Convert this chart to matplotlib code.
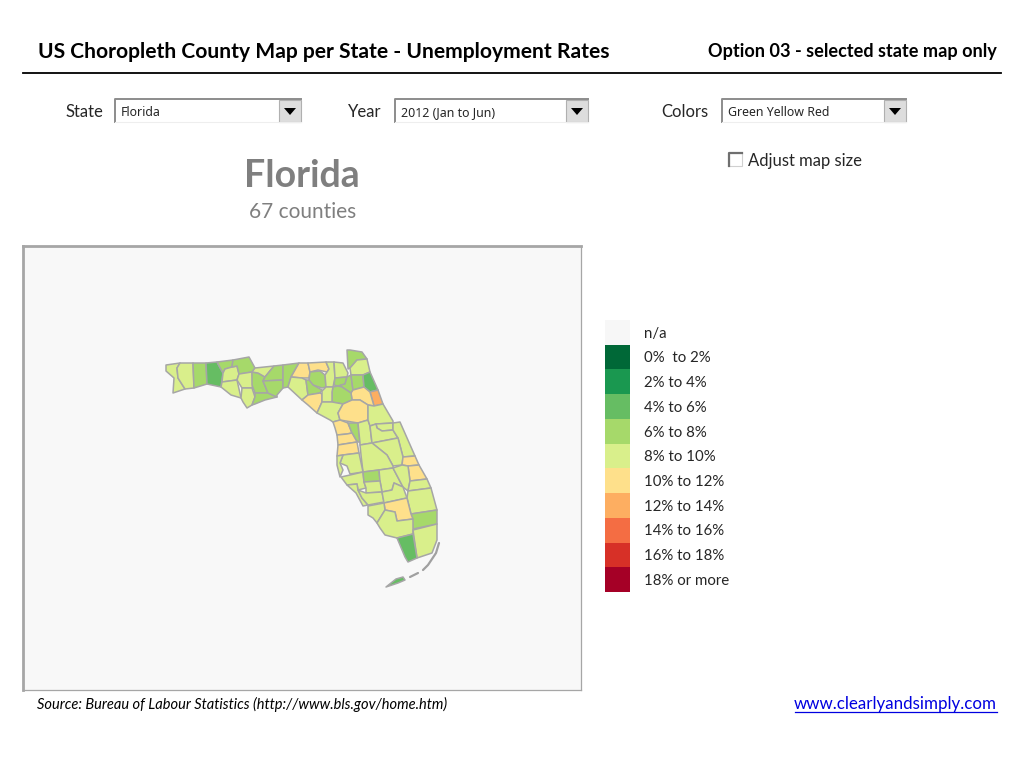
import matplotlib
matplotlib.use("Agg")
import matplotlib.pyplot as plt
from matplotlib.collections import PolyCollection
from matplotlib.patches import Rectangle, Polygon

plt.rcParams['font.family'] = ['Lato', 'DejaVu Sans']

W, H = 1024, 764

# ---- data ----
bin_labels = ["n/a", "0%  to 2%", "2% to 4%", "4% to 6%", "6% to 8%", "8% to 10%",
              "10% to 12%", "12% to 14%", "14% to 16%", "16% to 18%", "18% or more"]
bin_colors = ["#f7f7f7", "#006837", "#1a9850", "#66bd63", "#a6d96a", "#d9ef8b",
              "#fee08b", "#fdae61", "#f46d43", "#d73027", "#a50026"]

counties = {}
def county(name, bin_index, outline):
    counties[name] = (bin_index, outline)

county("Escambia", 5, [(166,365),(180,363),(177,368),(178,378),(185,389),(173,393),(174,378),(166,371)])
county("Santa Rosa", 5, [(180,363),(193,363),(194,388),(185,389),(178,378),(177,368)])
county("Okaloosa", 4, [(193,363),(206,363),(207,384),(194,388)])
county("Walton", 3, [(206,363),(217,362),(223,373),(221,387),(207,384)])
county("Holmes", 4, [(217,362),(233,360),(232,367),(225,369),(223,373)])
county("Washington", 5, [(223,373),(225,369),(232,367),(237,366),(239,374),(237,380),(222,382)])
county("Bay", 5, [(222,382),(237,380),(241,398),(231,395),(221,387)])
county("Jackson", 4, [(233,360),(249,357),(255,368),(252,372),(239,374),(237,366),(232,367)])
county("Calhoun", 5, [(239,374),(252,372),(253,385),(252,388),(242,388),(237,380)])
county("Gulf", 5, [(242,388),(252,388),(255,397),(252,405),(247,408),(243,402),(241,398)])
county("Liberty", 4, [(252,372),(258,373),(265,377),(263,381),(268,393),(255,393),(252,385)])
county("Franklin", 4, [(255,393),(268,393),(277,397),(265,400),(255,404),(252,405),(255,397)])
county("Gadsden", 5, [(255,368),(274,366),(265,377),(258,373),(252,372)])
county("Leon", 4, [(274,366),(283,365),(283,380),(263,381),(265,377)])
county("Wakulla", 4, [(263,381),(283,380),(283,388),(277,395),(277,397),(268,393)])
county("Jefferson", 4, [(283,365),(299,363),(291,377),(288,387),(283,388)])
county("Madison", 6, [(299,363),(308,363),(310,372),(309,378),(302,378),(291,377)])
county("Taylor", 5, [(291,377),(302,378),(306,380),(308,395),(302,400),(288,387)])
county("Hamilton", 6, [(308,363),(326,362),(329,369),(327,372),(318,370),(310,372)])
county("Suwannee", 4, [(310,372),(320,371),(325,375),(326,387),(322,388),(313,385),(309,380)])
county("Lafayette", 4, [(306,380),(309,380),(313,385),(322,390),(320,393),(308,395)])
county("Dixie", 6, [(308,395),(320,393),(322,394),(322,402),(317,413),(308,405),(302,400)])
county("Columbia", 5, [(326,362),(334,362),(335,378),(333,387),(326,387),(325,375),(329,369)])
county("Baker", 5, [(334,362),(343,363),(348,373),(347,377),(335,378)])
county("Union", 4, [(335,378),(347,377),(345,384),(338,386),(334,385)])
county("Bradford", 4, [(347,377),(351,375),(353,390),(351,393),(342,387),(338,386),(345,384)])
county("Nassau", 4, [(347,350),(350,350),(362,352),(367,359),(357,360),(350,368),(348,369)])
county("Duval", 5, [(350,368),(357,360),(367,359),(370,372),(363,375),(351,375)])
county("Clay", 4, [(351,375),(363,375),(364,387),(353,390)])
county("St Johns", 3, [(363,375),(370,372),(378,390),(370,392),(364,387)])
county("Flagler", 7, [(370,392),(378,390),(383,404),(374,406)])
county("Putnam", 6, [(353,390),(364,387),(370,392),(374,406),(368,405),(360,400),(352,400),(351,393)])
county("Alachua", 4, [(333,387),(338,386),(342,387),(351,393),(352,400),(343,404),(332,402),(332,392)])
county("Gilchrist", 5, [(322,391),(326,387),(333,387),(332,392),(332,402),(322,402),(322,394)])
county("Levy", 5, [(322,402),(332,402),(343,404),(338,413),(340,420),(333,422),(330,420),(317,413)])
county("Marion", 6, [(343,404),(352,400),(360,400),(368,405),(368,420),(358,423),(340,420),(338,413)])
county("Citrus", 6, [(333,422),(340,420),(348,423),(352,433),(347,434),(337,435),(335,428)])
county("Sumter", 4, [(348,423),(358,423),(360,443),(356,440),(352,433)])
county("Hernando", 6, [(337,435),(347,434),(352,433),(356,440),(357,442),(338,445)])
county("Pasco", 6, [(338,445),(357,442),(359,453),(343,455),(337,456)])
county("Lake", 5, [(358,423),(368,420),(370,426),(372,443),(360,445),(360,443)])
county("Volusia", 5, [(368,405),(374,406),(383,404),(393,421),(393,423),(376,424),(370,426),(368,420)])
county("Seminole", 5, [(376,424),(393,423),(393,430),(382,431),(377,428)])
county("Orange", 5, [(370,426),(376,424),(377,428),(382,431),(393,430),(398,438),(372,443)])
county("Brevard", 5, [(393,423),(400,422),(415,456),(403,457),(398,438),(393,430)])
county("Osceola", 5, [(372,443),(398,438),(403,457),(402,465),(393,466),(387,455)])
county("Polk", 5, [(360,445),(372,443),(387,455),(393,466),(393,468),(379,470),(363,472),(361,455)])
county("Indian River", 6, [(403,457),(415,456),(419,465),(408,466),(402,465)])
county("St Lucie", 6, [(408,466),(419,465),(427,479),(410,481)])
county("Hillsborough", 5, [(343,455),(359,453),(363,472),(350,474),(347,466),(340,463)])
county("Pinellas", 5, [(337,456),(343,455),(340,463),(343,470),(340,477),(337,465)])
county("Manatee", 5, [(341,477),(350,475),(363,472),(364,482),(366,488),(358,490),(357,484),(347,485)])
county("Hardee", 4, [(363,472),(379,470),(380,481),(364,482)])
county("Highlands", 5, [(379,470),(393,468),(403,487),(394,483),(392,490),(382,492),(380,481)])
county("Okeechobee", 5, [(393,468),(402,465),(408,466),(410,481),(408,491),(403,487)])
county("De Soto", 5, [(364,482),(380,481),(382,492),(366,493),(366,488)])
county("Sarasota", 5, [(347,485),(357,484),(358,490),(362,498),(368,505),(363,506),(356,493)])
county("Charlotte", 5, [(358,490),(366,493),(382,492),(384,502),(368,505),(362,498)])
county("Glades", 5, [(382,492),(392,490),(394,483),(403,487),(407,498),(384,503)])
county("St Lucie South", 5, [(410,481),(427,479),(431,488),(408,491)])
county("Martin", 5, [(408,491),(431,488),(437,510),(411,514),(407,498)])
county("Palm Beach", 4, [(411,514),(437,510),(437,524),(413,529)])
county("Hendry", 6, [(384,503),(407,498),(411,514),(413,519),(397,521),(395,512),(385,510)])
county("Lee", 5, [(368,506),(384,503),(385,510),(377,523),(373,518),(368,515)])
county("Collier", 5, [(377,523),(385,510),(395,512),(397,521),(413,519),(413,534),(397,538),(385,535),(380,528)])
county("Broward-Dade", 5, [(413,530),(437,524),(437,540),(432,553),(417,558)])
county("Monroe", 3, [(397,538),(413,534),(417,558),(408,562),(405,557)])
county("Keys", 3, [(386,587),(396,579),(403,577),(405,580),(398,583)])

keys_strips = [
    [(410,577),(418,573)],
    [(423,570),(428,565),(436,553),(439,543)],
]

dropdowns = [("State", "Florida"), ("Year", "2012 (Jan to Jun)"), ("Colors", "Green Yellow Red")]

# ---- figure ----
fig = plt.figure(figsize=(W / 100, H / 100), dpi=100, facecolor="white")

def px_axes(x0, y0, x1, y1, **kw):
    return fig.add_axes([x0 / W, 1 - y1 / H, (x1 - x0) / W, (y1 - y0) / H], **kw)

bg = px_axes(0, 0, W, H)
bg.set_xlim(0, W); bg.set_ylim(H, 0); bg.axis("off")

bg.text(38, 52, "US Choropleth County Map per State - Unemployment Rates", fontsize=15.15,
        fontweight="bold", color="black", va="center", ha="left")
bg.text(997, 52, "Option 03 - selected state map only", fontsize=13.1,
        fontweight="bold", color="black", va="center", ha="right")
bg.plot([23, 1001], [73, 73], color="black", lw=1.3)

combo = [(65, 115, 301), (348, 395, 588), (661, 722, 906)]
for (label, value), (lx, x0, x1) in zip(dropdowns, combo):
    bg.text(lx, 112, label, fontsize=12, color="#262626", va="center", ha="left")
    bg.add_patch(Rectangle((x0, 99), x1 - x0, 23, fc="white", ec="none"))
    bg.plot([x0, x0, x1], [122, 99, 99], color="#8c8c8c", lw=1.4)
    bg.plot([x0, x1], [122, 122], color="#eeeeee", lw=0.8)
    bg.add_patch(Rectangle((x1 - 22, 100), 22, 22, fc="#dddddd", ec="#b0b0b0", lw=0.8))
    cx = x1 - 11
    bg.add_patch(Polygon([(cx - 6, 108), (cx + 6, 108), (cx, 115)], fc="black", ec="none"))
    bg.text(x0 + 6, 113, value, fontsize=8.9, color="#262626", va="center", ha="left",
            family="Noto Sans")

bg.add_patch(Rectangle((729, 153), 13, 13, fc="white", ec="#d0d0d0", lw=0.8))
bg.plot([729, 729, 742], [166, 153, 153], color="#6f6f6f", lw=1.6)
bg.text(748, 161, "Adjust map size", fontsize=12, color="#262626", va="center", ha="left")

bg.text(302, 176, "Florida", fontsize=27, fontweight="bold", color="#7f7f7f", va="center", ha="center")
bg.text(302.5, 212, "67 counties", fontsize=15, color="#7f7f7f", va="center", ha="center")

bg.text(37, 704, "Source: Bureau of Labour Statistics (http://www.bls.gov/home.htm)", fontsize=10.55,
        style="italic", color="black", va="center", ha="left")
bg.text(997, 704, "www.clearlyandsimply.com", fontsize=12.2, color="#0000e0", va="center", ha="right")
bg.plot([795, 997], [712, 712], color="#0000e0", lw=0.9)

# map panel (axis units are the picture's own pixels)
mp = px_axes(23, 246, 581, 690)
mp.set_xlim(23, 581); mp.set_ylim(690, 246)
mp.set_xticks([]); mp.set_yticks([])
mp.set_facecolor("#f8f8f8")
for side, sp in mp.spines.items():
    sp.set_color("#a6a6a6")
    sp.set_linewidth(2.0 if side in ("top", "left") else 0.9)

pc = PolyCollection([c[1] for c in counties.values()],
                    facecolors=[bin_colors[c[0]] for c in counties.values()],
                    edgecolors="#a6a6a6", linewidths=1.1, joinstyle="round")
mp.add_collection(pc)
for strip in keys_strips:
    mp.plot(*zip(*strip), color="#a0a0a0", lw=1.6, solid_capstyle="round")

# colour legend
lg = px_axes(605, 320, 630, 592)
lg.set_xlim(0, 1); lg.set_ylim(len(bin_labels), 0); lg.axis("off")
lg.barh(range(len(bin_labels)), [1] * len(bin_labels), height=1.0, align="edge",
        color=bin_colors, linewidth=0)
for i, lab in enumerate(bin_labels):
    lg.annotate(lab, xy=(1, i + 0.55), xytext=(10, 0), textcoords="offset points",
                fontsize=10.8, color="#262626", va="center", ha="left", annotation_clip=False)

fig.savefig("out.png", dpi=100)
